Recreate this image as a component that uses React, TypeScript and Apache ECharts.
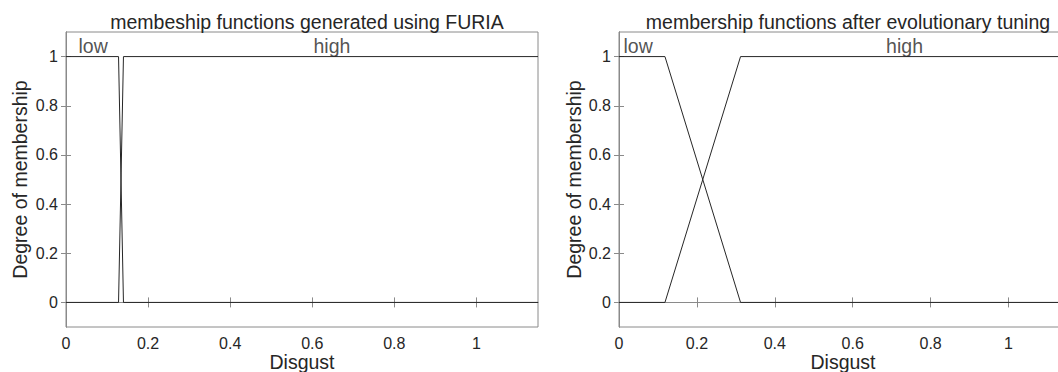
import React, { useEffect, useRef } from "react";
import * as echarts from "echarts";

const xTicks = [0, 0.2, 0.4, 0.6, 0.8, 1];
const yTicks = [0, 0.2, 0.4, 0.6, 0.8, 1];
const xMax = 1.15;

// left panel (FURIA)
const leftLowX = [0, 0.128, 0.14, 1.15];
const leftLowY = [1, 1, 0, 0];
const leftHighX = [0, 0.128, 0.14, 1.15];
const leftHighY = [0, 0, 1, 1];

// right panel (after tuning)
const rightLowX = [0, 0.118, 0.312, 1.15];
const rightLowY = [1, 1, 0, 0];
const rightHighX = [0, 0.118, 0.312, 1.15];
const rightHighY = [0, 0, 1, 1];

const leftLabels = [
  { name: "low", x: 0.066, y: 1.045 },
  { name: "high", x: 0.648, y: 1.045 },
];
const rightLabels = [
  { name: "low", x: 0.049, y: 1.045 },
  { name: "high", x: 0.733, y: 1.045 },
];

const titles = [
  "membeship functions generated using FURIA",
  "membership functions after evolutionary tuning",
];
const xName = "Disgust";
const yName = "Degree of membership";

const FONT = "Liberation Sans";
const TEXT = "#262626";
const AXIS = "#8a8a8a";
const CURVE = "#262626";
const BIG = 19.5;
const TICK = 16;

const zip = (xs: number[], ys: number[]) => xs.map((x, i) => [x, ys[i]]);

export default function App() {
  const ref = useRef<HTMLDivElement>(null);
  useEffect(() => {
    if (!ref.current) return;
    const chart = echarts.init(ref.current, undefined, { renderer: "svg" });
    const grids = [
      { left: 66, top: 32, width: 472, height: 295 },
      { left: 619, top: 32, width: 448, height: 295 },
    ];
    const xAxes: any[] = [];
    const yAxes: any[] = [];
    grids.forEach((_, g) => {
      xAxes.push({
        type: "value",
        gridIndex: g,
        position: "bottom",
        min: 0,
        max: xMax,
        name: xName,
        nameLocation: "middle",
        nameGap: 25,
        nameMoveOverlap: false,
        nameTextStyle: { fontFamily: FONT, fontSize: BIG, color: TEXT, lineHeight: BIG },
        axisLine: { show: true, lineStyle: { color: AXIS, width: 1 } },
        axisTick: { show: true, inside: true, length: 5, customValues: xTicks, lineStyle: { color: AXIS } },
        axisLabel: { show: true, customValues: xTicks, margin: 8, fontFamily: FONT, fontSize: TICK, color: TEXT, lineHeight: TICK },
        splitLine: { show: false },
      });
      xAxes.push({
        type: "value",
        gridIndex: g,
        position: "top",
        min: 0,
        max: xMax,
        axisLine: { show: true, lineStyle: { color: AXIS, width: 1 } },
        axisTick: { show: true, inside: true, length: 5, customValues: xTicks, lineStyle: { color: AXIS } },
        axisLabel: { show: false },
        splitLine: { show: false },
      });
      yAxes.push({
        type: "value",
        gridIndex: g,
        position: "left",
        min: -0.1,
        max: 1.1,
        name: yName,
        nameLocation: "middle",
        nameGap: g === 0 ? 36 : 35,
        nameMoveOverlap: false,
        nameTextStyle: { fontFamily: FONT, fontSize: BIG, color: TEXT },
        axisLine: { show: true, lineStyle: { color: AXIS, width: 1 } },
        axisTick: { show: true, inside: true, length: 5, customValues: yTicks, lineStyle: { color: AXIS } },
        axisLabel: { show: true, customValues: yTicks, margin: 8, fontFamily: FONT, fontSize: TICK, color: TEXT },
        splitLine: { show: false },
      });
      yAxes.push({
        type: "value",
        gridIndex: g,
        position: "right",
        min: -0.1,
        max: 1.1,
        axisLine: { show: true, lineStyle: { color: AXIS, width: 1 } },
        axisTick: { show: true, inside: true, length: 5, customValues: yTicks, lineStyle: { color: AXIS } },
        axisLabel: { show: false },
        splitLine: { show: false },
      });
    });
    const line = (xs: number[], ys: number[], g: number) => ({
      type: "line",
      xAxisIndex: g * 2,
      yAxisIndex: g * 2,
      data: zip(xs, ys),
      showSymbol: false,
      symbol: "none",
      lineStyle: { color: CURVE, width: 1 },
      silent: true,
    });
    const labels = (items: { name: string; x: number; y: number }[], g: number) => ({
      type: "scatter",
      xAxisIndex: g * 2,
      yAxisIndex: g * 2,
      symbolSize: 0,
      silent: true,
      data: items.map((d) => ({ value: [d.x, d.y], name: d.name })),
      label: {
        show: true,
        position: "inside",
        formatter: (p: any) => p.name,
        fontFamily: FONT,
        fontSize: BIG,
        color: TEXT,
      },
    });
    chart.setOption({
      animation: false,
      backgroundColor: "#ffffff",
      title: [
        {
          text: titles[0],
          left: 302,
          top: 7,
          textAlign: "center",
          textStyle: { fontFamily: FONT, fontSize: BIG, fontWeight: "normal", color: TEXT },
        },
        {
          text: titles[1],
          left: 843,
          top: 7,
          textAlign: "center",
          textStyle: { fontFamily: FONT, fontSize: BIG, fontWeight: "normal", color: TEXT },
        },
      ],
      grid: grids.map((g) => ({
        ...g,
        show: true,
        containLabel: false,
        outerBoundsMode: "none",
        borderColor: AXIS,
        borderWidth: 1,
        backgroundColor: "#ffffff",
      })),
      xAxis: xAxes,
      yAxis: yAxes,
      series: [
        line(leftLowX, leftLowY, 0),
        line(leftHighX, leftHighY, 0),
        line(rightLowX, rightLowY, 1),
        line(rightHighX, rightHighY, 1),
        labels(leftLabels, 0),
        labels(rightLabels, 1),
      ],
    });
    return () => chart.dispose();
  }, []);
  return (
    <div
      ref={ref}
      style={{ position: "fixed", left: 0, top: 0, width: 1058, height: 372, background: "#fff" }}
    />
  );
}
